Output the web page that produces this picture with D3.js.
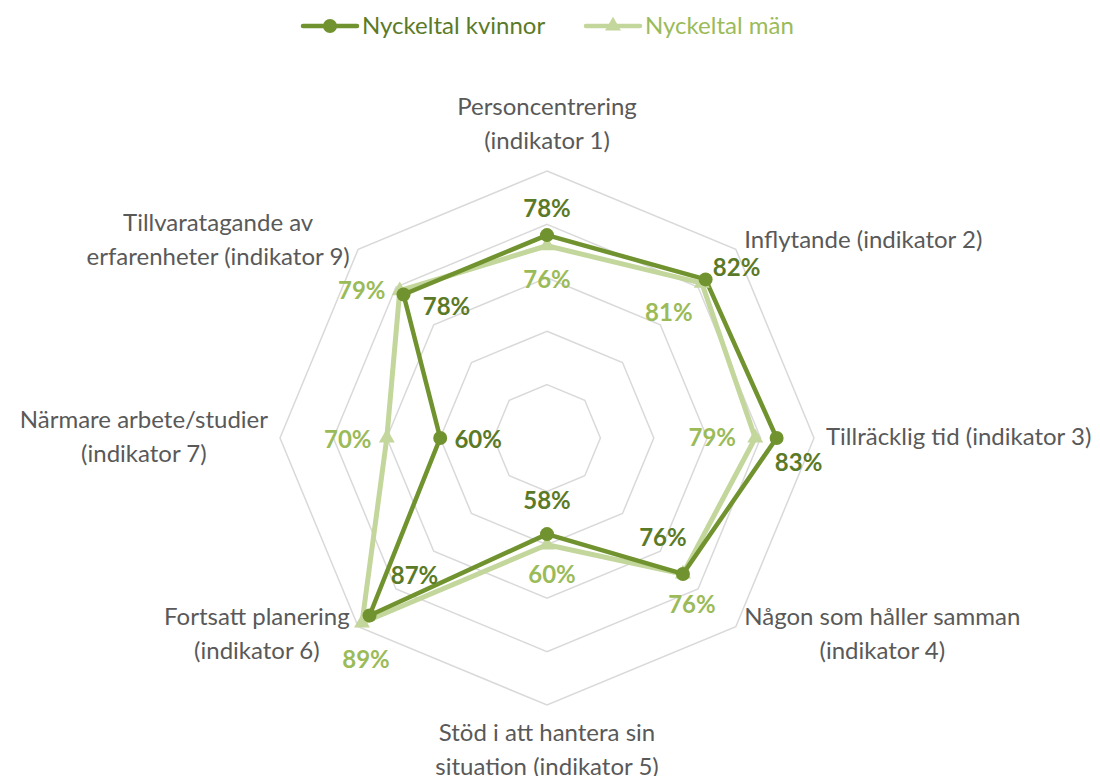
<!DOCTYPE html>
<html>
<head>
<meta charset="utf-8">
<script src="https://cdn.jsdelivr.net/npm/d3@7"></script>
<style>
  body { margin: 0; background: #fff; }
  text { font-family: Lato, "Open Sans", sans-serif; }
</style>
</head>
<body>
<div id="chart"></div>
<script>
// Data
const categories = [
  ["Personcentrering", "(indikator 1)"],
  ["Inflytande (indikator 2)"],
  ["Tillräcklig tid (indikator 3)"],
  ["Någon som håller samman", "(indikator 4)"],
  ["Stöd i att hantera sin", "situation (indikator 5)"],
  ["Fortsatt planering", "(indikator 6)"],
  ["Närmare arbete/studier", "(indikator 7)"],
  ["Tillvaratagande av", "erfarenheter (indikator 9)"]
];
const seriesNames = ["Nyckeltal kvinnor", "Nyckeltal män"];
const kvinnor = [78, 82, 83, 76, 58, 87, 60, 78];
const man = [76, 81, 79, 76, 60, 89, 70, 79];
const ringTicks = [50, 60, 70, 80, 90];

// label placement relative to each point (dx, dy)
const kvinnorLabelOffset = [[0, -26], [31, -12], [22, 25], [-20, -36], [0, -34], [45, -40], [38, 2], [43, 12]];
const manLabelOffset = [[0, 34], [-33, 29], [-43, 0], [9, 31], [5, 30], [4, 37], [-39, 2], [-38, 0]];

const width = 1100, height = 776;
const cx = 547, cy = 438;
const darkLine = "#71932f", darkText = "#5b7a27";
const lightLine = "#c3d69b", lightText = "#9bbb59";
const fontSize = "24px";

const svg = d3.select("#chart").append("svg")
  .attr("width", width).attr("height", height);

const r = d3.scaleLinear().domain([40, 90]).range([0, 267]);
const n = categories.length;
const angle = i => (i * 2 * Math.PI) / n;
const px = (i, v) => cx + r(v) * Math.sin(angle(i));
const py = (i, v) => cy - r(v) * Math.cos(angle(i));

// grid rings
const ringLine = d3.line();
svg.append("g").selectAll("path")
  .data(ringTicks)
  .enter().append("path")
  .attr("d", t => ringLine(d3.range(n).map(i => [px(i, t), py(i, t)])) + "Z")
  .style("fill", "none")
  .style("stroke", "#d9d9d9")
  .style("stroke-width", 1.5);

// category labels
const lineH = 34;
const labelG = svg.append("g");
categories.forEach((lines, i) => {
  const a = angle(i);
  const ax = cx + (r(90) + 12) * Math.sin(a);
  const ay = cy - (r(90) + 12) * Math.cos(a);
  const g = labelG.append("g");
  const texts = lines.map((s, j) => g.append("text")
    .attr("y", j * lineH)
    .attr("text-anchor", "middle")
    .style("font-size", fontSize)
    .style("fill", "#595959")
    .text(s));
  const w = d3.max(texts, t => t.node().getComputedTextLength());
  const sx = Math.sin(a);
  let x0;
  if (Math.abs(sx) < 0.01) x0 = ax;
  else if (sx > 0) x0 = ax + w / 2;
  else x0 = ax - w / 2;
  const blockH = lines.length * lineH;
  let top;
  const cz = Math.cos(a);
  if (Math.abs(sx) < 0.01) top = cz > 0 ? ay - blockH : ay;
  else top = ay - blockH / 2;
  g.attr("transform", `translate(${x0},${top + lineH / 2 + 7})`);
});

// series
const radarLine = d3.line();
function drawSeries(vals, color, width) {
  svg.append("path")
    .attr("d", radarLine(vals.map((v, i) => [px(i, v), py(i, v)])) + "Z")
    .style("fill", "none")
    .style("stroke", color)
    .style("stroke-width", width)
    .style("stroke-linejoin", "round");
}
drawSeries(man, lightLine, 5);
drawSeries(kvinnor, darkLine, 4.5);

const tri = d3.symbol().type(d3.symbolTriangle).size(110);
svg.append("g").selectAll("path")
  .data(man)
  .enter().append("path")
  .attr("d", tri)
  .attr("transform", (v, i) => `translate(${px(i, v)},${py(i, v)})`)
  .style("fill", lightLine);

svg.append("g").selectAll("circle")
  .data(kvinnor)
  .enter().append("circle")
  .attr("cx", (v, i) => px(i, v))
  .attr("cy", (v, i) => py(i, v))
  .attr("r", 7)
  .style("fill", darkLine);

// data labels
function drawLabels(vals, offsets, color) {
  svg.append("g").selectAll("text")
    .data(vals)
    .enter().append("text")
    .attr("x", (v, i) => px(i, v) + offsets[i][0])
    .attr("y", (v, i) => py(i, v) + offsets[i][1])
    .attr("dy", "0.35em")
    .attr("text-anchor", "middle")
    .style("font-size", fontSize)
    .style("font-weight", "bold")
    .style("fill", color)
    .text(v => v + "%");
}
drawLabels(kvinnor, kvinnorLabelOffset, darkText);
drawLabels(man, manLabelOffset, lightText);

// legend
const legend = svg.append("g").attr("transform", "translate(0,26)");
const legendItems = [
  { name: seriesNames[0], x: 303, color: darkLine, text: darkText, marker: "circle" },
  { name: seriesNames[1], x: 586, color: lightLine, text: lightText, marker: "triangle" }
];
legendItems.forEach(d => {
  const g = legend.append("g").attr("transform", `translate(${d.x},0)`);
  g.append("line").attr("x1", 0).attr("x2", 54)
    .style("stroke", d.color).style("stroke-width", 4.5).style("stroke-linecap", "round");
  if (d.marker === "circle") {
    g.append("circle").attr("cx", 27).attr("r", 7).style("fill", d.color);
  } else {
    g.append("path").attr("d", tri).attr("transform", "translate(27,0)").style("fill", d.color);
  }
  g.append("text").attr("x", 59).attr("dy", "0.35em")
    .style("font-size", fontSize).style("fill", d.text).text(d.name);
});
</script>
</body>
</html>
